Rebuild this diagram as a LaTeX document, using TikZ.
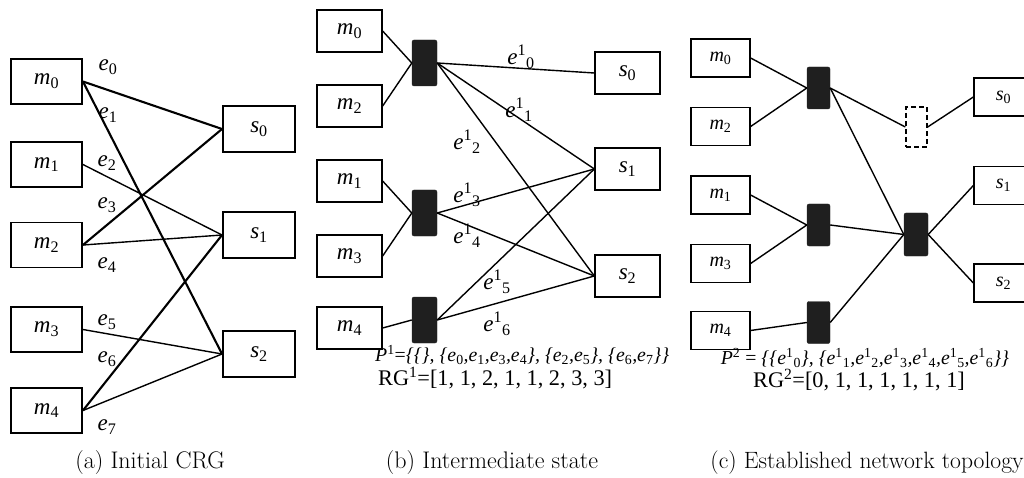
\documentclass[tikz,border=0pt]{standalone}
\usepackage{fontspec}
\newfontfamily\tms{Liberation Serif}[ItalicFont={Liberation Serif Italic}]
\newcommand\lbsub[2]{{\itshape #1}\textsubscript{\upshape #2}}
\newcommand\esup[2]{{\itshape e}\textsuperscript{\upshape #1}\textsubscript{\upshape #2}}
\tikzset{
  boxa/.style={draw, line width=1.9pt, minimum width=71pt, minimum height=45pt, inner sep=0pt, font=\tms\fontsize{23}{23}\selectfont},
  boxb/.style={draw, line width=1.3pt, minimum width=65pt, minimum height=42pt, inner sep=0pt, font=\tms\fontsize{23}{23}\selectfont},
  boxc/.style={draw, line width=1.3pt, minimum width=59pt, minimum height=38pt, inner sep=0pt, font=\tms\fontsize{20}{20}\selectfont},
  blk/.style={fill=black!88, draw=black!88, rounded corners=2pt, minimum width=24pt, minimum height=45pt, inner sep=0pt},
  dblk/.style={draw, line width=1.3pt, dash pattern=on 5pt off 3pt, minimum width=21pt, minimum height=40pt, inner sep=0pt},
  thk/.style={line width=2.1pt},
  thn/.style={line width=1.4pt},
  elab/.style={font=\tms\fontsize{23}{23}\selectfont, inner sep=0pt},
  elabb/.style={font=\tms\fontsize{23}{23}\selectfont, inner sep=0pt},
  frm/.style={font=\tms\fontsize{19.8}{19.8}\selectfont, inner sep=0pt},
  frmrg/.style={font=\tms\fontsize{22.3}{22.3}\selectfont, inner sep=0pt},
  captxt/.style={font=\fontsize{24}{24}\selectfont, inner sep=0pt}
}
\begin{document}
\begin{tikzpicture}[x=1pt, y=-1pt]
\useasboundingbox (0,0) rectangle (1024,478);
% ---------- panel (a)
\node[boxa] (am0) at (46.5,81.5) {\lbsub{m}{0}};
\node[boxa] (am1) at (46.5,164.5) {\lbsub{m}{1}};
\node[boxa] (am2) at (46.5,245) {\lbsub{m}{2}};
\node[boxa] (am3) at (46.5,329.5) {\lbsub{m}{3}};
\node[boxa] (am4) at (46.5,410.5) {\lbsub{m}{4}};
\node[boxa, minimum width=72pt, minimum height=46pt] (as0) at (259,129) {\lbsub{s}{0}};
\node[boxa, minimum width=72pt, minimum height=46pt] (as1) at (259,235) {\lbsub{s}{1}};
\node[boxa, minimum width=72pt, minimum height=46pt] (as2) at (259,354) {\lbsub{s}{2}};
\draw[thk] (am0.east) -- (as0.west);
\draw[thk] (am0.east) -- (as2.west);
\draw[thn] (am1.east) -- (as1.west);
\draw[thk] (am2.east) -- (as0.west);
\draw[thn] (am2.east) -- (as1.west);
\draw[thn] (am3.east) -- (as2.west);
\draw[thk] (am4.east) -- (as1.west);
\draw[thn] (am4.east) -- (as2.west);
\node[elab] (ae0) at (108,67) {\lbsub{e}{0}};
\node[elab] (ae1) at (108,115) {\lbsub{e}{1}};
\node[elab] (ae2) at (107,163) {\lbsub{e}{2}};
\node[elab] (ae3) at (107,205) {\lbsub{e}{3}};
\node[elab] (ae4) at (107,265) {\lbsub{e}{4}};
\node[elab] (ae5) at (107,322) {\lbsub{e}{5}};
\node[elab] (ae6) at (107,359) {\lbsub{e}{6}};
\node[elab] (ae7) at (107,427) {\lbsub{e}{7}};
\node[captxt] (capa) at (150,463) {(a) Initial CRG};
% ---------- panel (b)
\node[boxb] (bm0) at (349.5,31) {\lbsub{m}{0}};
\node[boxb] (bm2) at (349.5,106) {\lbsub{m}{2}};
\node[boxb] (bm1) at (349.5,181) {\lbsub{m}{1}};
\node[boxb] (bm3) at (349.5,256) {\lbsub{m}{3}};
\node[boxb] (bm4) at (349.5,328) {\lbsub{m}{4}};
\node[blk, minimum width=25pt, minimum height=46pt] (bb1) at (424.5,63) {};
\node[blk, minimum width=25pt, minimum height=46pt] (bb2) at (424.5,213) {};
\node[blk, minimum width=25pt, minimum height=46pt] (bb3) at (424.5,320) {};
\node[boxb] (bs0) at (627.5,73) {\lbsub{s}{0}};
\node[boxb] (bs1) at (627.5,169) {\lbsub{s}{1}};
\node[boxb] (bs2) at (627.5,276) {\lbsub{s}{2}};
\draw[thn] (bm0.east) -- (bb1.west);
\draw[thn] (bm2.east) -- (bb1.west);
\draw[thn] (bm1.east) -- (bb2.west);
\draw[thn] (bm3.east) -- (bb2.west);
\draw[thn] (bm4.east) -- (bb3.west);
\draw[thn] (bb1.east) -- (bs0.west);
\draw[thn] (bb1.east) -- (bs1.west);
\draw[thn] (bb1.east) -- (bs2.west);
\draw[thn] (bb2.east) -- (bs1.west);
\draw[thn] (bb2.east) -- (bs2.west);
\draw[thn] (bb3.east) -- (bs1.west);
\draw[thn] (bb3.east) -- (bs2.west);
\node[elabb] (be0) at (521,57) {\esup{1}{0}};
\node[elabb] (be1) at (519,110) {\esup{1}{1}};
\node[elabb] (be2) at (467,142) {\esup{1}{2}};
\node[elabb] (be3) at (467,195) {\esup{1}{3}};
\node[elabb] (be4) at (467,236) {\esup{1}{4}};
\node[elabb] (be5) at (497,282) {\esup{1}{5}};
\node[elabb] (be6) at (497,324) {\esup{1}{6}};
\node[frm, anchor=west] (bp) at (375,355) {{\itshape P}\textsuperscript{1}={\itshape \{\{\}, \{\lbsub{e}{0},\lbsub{e}{1},\lbsub{e}{3},\lbsub{e}{4}\}, \{\lbsub{e}{2},\lbsub{e}{5}\}, \{\lbsub{e}{6},\lbsub{e}{7}\}\}}};
\node[frmrg, anchor=west] (brg) at (378,378) {RG\textsuperscript{1}=[1, 1, 2, 1, 1, 2, 3, 3]};
\node[captxt] (capb) at (492,463) {(b) Intermediate state};
% ---------- panel (c)
\node[boxc] (cm0) at (720.5,58) {\lbsub{m}{0}};
\node[boxc] (cm2) at (720.5,126.5) {\lbsub{m}{2}};
\node[boxc] (cm1) at (720.5,195) {\lbsub{m}{1}};
\node[boxc] (cm3) at (720.5,263.5) {\lbsub{m}{3}};
\node[boxc] (cm4) at (720.5,330.5) {\lbsub{m}{4}};
\node[blk, minimum width=23pt, minimum height=42pt] (cA) at (818.5,88) {};
\node[blk, minimum width=23pt, minimum height=42pt] (cB) at (818.5,225) {};
\node[blk, minimum width=23pt, minimum height=42pt] (cC) at (818.5,322.5) {};
\node[blk, minimum width=24pt, minimum height=43pt] (cD) at (916,234.5) {};
\node[dblk] (cX) at (916.5,127) {};
\node[boxc] (cs0) at (1003.5,97) {\lbsub{s}{0}};
\node[boxc] (cs1) at (1003.5,185.5) {\lbsub{s}{1}};
\node[boxc] (cs2) at (1003.5,283) {\lbsub{s}{2}};
\draw[thn] (cm0.east) -- (cA.west);
\draw[thn] (cm2.east) -- (cA.west);
\draw[thn] (cm1.east) -- (cB.west);
\draw[thn] (cm3.east) -- (cB.west);
\draw[thn] (cm4.east) -- (cC.west);
\draw[thn] (cA.east) -- (cX.west);
\draw[thn] (cX.east) -- (cs0.west);
\draw[thn] (cA.east) -- (cD.west);
\draw[thn] (cB.east) -- (cD.west);
\draw[thn] (cC.east) -- (cD.west);
\draw[thn] (cD.east) -- (cs1.west);
\draw[thn] (cD.east) -- (cs2.west);
\node[frm] (cp) at (865,358) {{\itshape P}\textsuperscript{2} = {\itshape \{\{\esup{1}{0}\}, \{\esup{1}{1},\esup{1}{2},\esup{1}{3},\esup{1}{4},\esup{1}{5},\esup{1}{6}\}\}}};
\node[frmrg] (crg) at (859,380) {RG\textsuperscript{2}=[0, 1, 1, 1, 1, 1, 1]};
\node[captxt, font=\fontsize{23.6}{23.6}\selectfont] (capc) at (867,463) {(c) Established network topology};
\end{tikzpicture}
\end{document}
